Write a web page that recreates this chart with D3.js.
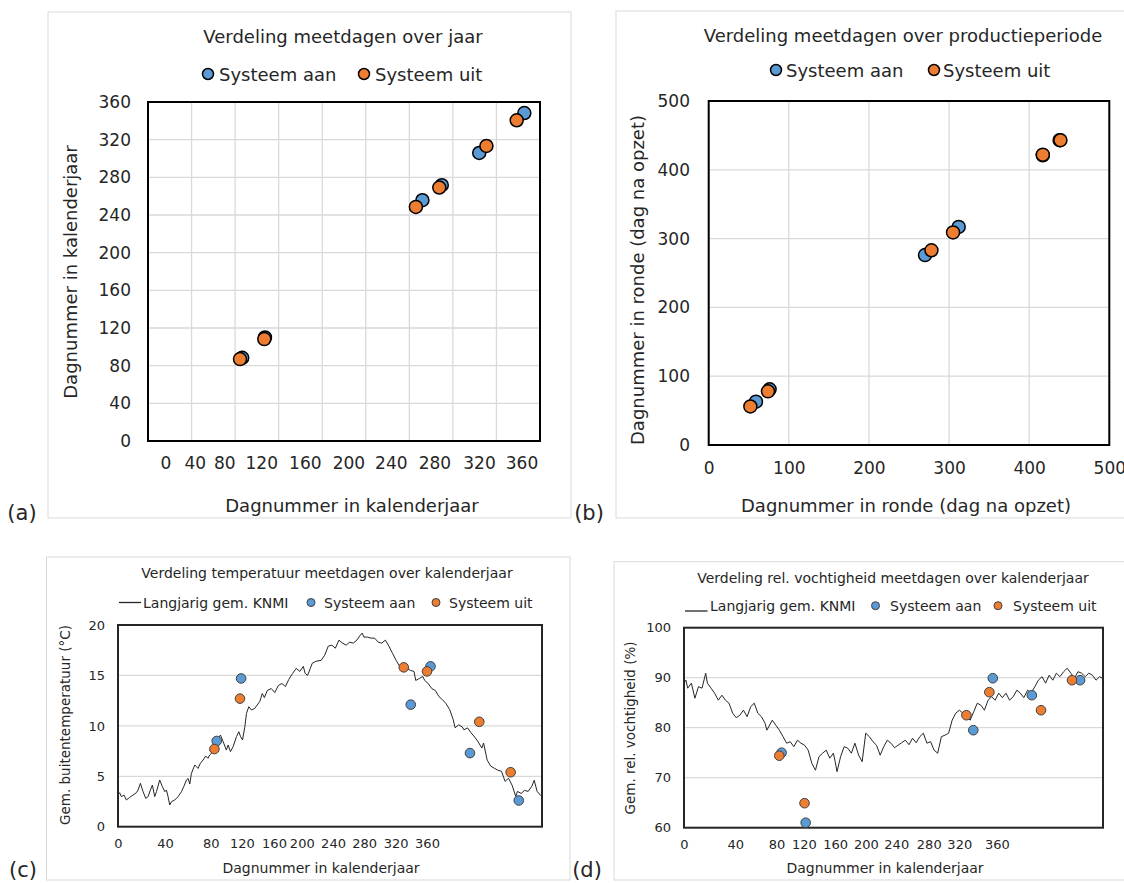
<!DOCTYPE html>
<html>
<head>
<meta charset="utf-8">
<script src="https://cdn.jsdelivr.net/npm/d3@7"></script>
<style>
  body { margin: 0; background: #fff; }
  text { font-family: "DejaVu Sans", Verdana, sans-serif; fill: #262626; }
</style>
</head>
<body>
<svg id="chart" width="1124" height="883"></svg>
<script>
// (a) dagnummer in kalenderjaar
const aBlueX = [86.5, 107.4, 252, 269.8, 304.2, 345.6];
const aBlueY = [88.4, 110, 255.7, 271.6, 305.9, 348.3];
const aOrangeX = [84.5, 106.8, 246, 267.5, 310.8, 338.6];
const aOrangeY = [87, 108.2, 248.6, 269.2, 313.3, 340.6];
const yearTicks = [0, 40, 80, 120, 160, 200, 240, 280, 320, 360];
const aXLabelPos = [16, 43, 70, 104, 144, 184, 223, 263, 304, 343];

// (b) dagnummer in ronde
const bBlueX = [59, 76, 270, 312, 417, 438];
const bBlueY = [63, 81, 276, 317, 421, 443];
const bOrangeX = [52, 74, 278, 305, 417, 439];
const bOrangeY = [56, 78, 283, 309, 422, 443];
const rondeTicks = [0, 100, 200, 300, 400, 500];

// (c) en (d) meetdagen
const blueDays = [85, 106, 252, 269, 303, 345];
const orangeDays = [83, 105, 246, 266, 311, 338];
const blueTemp = [8.5, 14.7, 12.1, 15.9, 7.3, 2.6];
const orangeTemp = [7.7, 12.7, 15.8, 15.4, 10.4, 5.4];
const blueHum = [75.0, 61.0, 79.5, 89.9, 86.5, 89.5];
const orangeHum = [74.4, 64.9, 82.5, 87.1, 83.5, 89.5];
const cXLabelPos = [0, 40.5, 79.8, 106.6, 134.3, 158.2, 185.1, 211.8, 239, 266];
const dXLabelPos = [0, 44.6, 80.6, 104.4, 131.7, 158.4, 184.9, 213.2, 239.8, 272.6];
const tempTicks = [0, 5, 10, 15, 20];
const humTicks = [60, 70, 80, 90, 100];

const tempDays = [0, 1.4, 2.9, 5.2, 7.2, 10.1, 13, 15.8, 17.3, 19.3, 21.6, 23.9, 25.9, 27.9, 29.6, 31.6, 33.1, 35.9, 38.2, 40.3, 41.7, 43.1, 44.5, 46, 48.9, 51.7, 54.6, 56.6, 58.9, 60.3, 61.8, 63.2, 66.1, 67.5, 68.9, 70.9, 73.2, 75.5, 77.5, 78.9, 80.4, 83.3, 86.2, 88.2, 90.5, 93.3, 94.8, 96.8, 99.1, 102, 104, 105.5, 107.2, 109.2, 110.6, 112.6, 114.9, 117.8, 119.2, 122, 124.2, 126, 128.5, 131.9, 135, 138, 141.1, 144.2, 147, 150.3, 153.4, 156.5, 159.5, 161.1, 163.2, 167.2, 170.3, 174.9, 177.9, 181, 184.1, 187.1, 190.2, 193.3, 196.4, 199.4, 202.5, 205.6, 208.6, 210.2, 211.7, 214.8, 217.9, 220.9, 224, 227.1, 230.2, 233.2, 236.3, 239.4, 242.5, 245.5, 248.6, 251.7, 254.8, 256.3, 259.4, 262.4, 264, 267, 270.1, 273.2, 276.3, 279.3, 282.4, 285.6, 288.6, 290.2, 293.2, 296.3, 297.8, 300.9, 304, 307, 310.1, 313.2, 314.7, 317.8, 320.9, 323.9, 327, 330.1, 333.2, 336.2, 339.3, 342.4, 343.9, 347, 350, 353.1, 356.2, 358.3, 360.8, 363.8, 365];
const tempKnmi = [3.14, 3.37, 2.98, 3.14, 2.65, 2.91, 3.14, 3.37, 3.64, 4.3, 3.47, 2.81, 2.98, 3.64, 4.13, 2.98, 3.47, 4.63, 3.97, 3.47, 3.64, 2.98, 2.15, 2.48, 2.65, 2.98, 3.47, 3.97, 4.63, 4.79, 4.23, 5.29, 6.12, 5.95, 5.78, 6.28, 6.61, 7.01, 6.78, 7.11, 7.27, 7.44, 8.76, 9.09, 8.43, 7.6, 8.1, 7.44, 7.94, 8.93, 9.42, 8.93, 8.6, 9.92, 11.24, 11.9, 11.57, 11.74, 11.97, 12.4, 13.2, 12.8, 13.5, 13.7, 13.3, 14.0, 14.2, 13.9, 14.6, 15.2, 15.7, 15.4, 15.9, 15.2, 15.0, 16.2, 16.4, 16.5, 17.0, 17.9, 18.0, 17.7, 18.5, 18.2, 18.0, 18.3, 18.2, 18.5, 19.0, 19.2, 18.8, 18.8, 18.7, 18.7, 18.3, 18.2, 18.5, 17.9, 17.2, 16.5, 15.9, 15.9, 15.7, 15.5, 15.4, 14.5, 14.7, 14.9, 14.5, 14.2, 13.7, 13.5, 12.9, 12.6, 12.2, 11.6, 10.6, 9.8, 10.1, 9.9, 9.6, 9.8, 9.3, 8.9, 8.4, 7.8, 8.3, 6.6, 6.0, 5.8, 5.6, 5.5, 4.5, 4.8, 4.1, 3.0, 3.5, 3.3, 3.6, 3.5, 4.0, 4.6, 3.5, 3.1, 3.0];
const humDays = [0, 1.7, 3.2, 6.4, 9.5, 12.6, 15.7, 18.9, 20.4, 23.6, 26.7, 29.9, 33, 36.1, 39.2, 42.4, 45.5, 48.7, 51.8, 55, 58.1, 61.2, 64.3, 67.5, 70.6, 72.2, 76.9, 80, 83.1, 86.3, 89.4, 92.5, 95.7, 98.8, 101.9, 105, 108.2, 111.3, 114.5, 117.6, 120.7, 123.9, 127, 130.1, 131.7, 133.3, 136.4, 139.5, 142.7, 145.8, 148.9, 152.1, 155.2, 158.3, 161.5, 164.6, 167.7, 170.9, 174, 177.1, 180.3, 183.4, 186.5, 189.6, 192.8, 196, 199.1, 202.2, 205.4, 208.5, 211.6, 214.8, 217.9, 221, 224.2, 227.3, 230.5, 233.6, 236.7, 239.9, 243, 246.1, 249.3, 252.4, 255.5, 258.6, 261.7, 264.9, 268, 271, 274.2, 277.3, 280.5, 283.6, 286.8, 290, 293, 296, 299.3, 302.5, 305.6, 308.7, 311.9, 315, 318.1, 321.3, 324.4, 327.5, 330.7, 333.8, 337, 340.1, 343.2, 346.4, 349.5, 352.6, 355.8, 358.9, 362, 365];
const humKnmi = [88.9, 89.5, 87.9, 88.9, 85.9, 88.2, 87.9, 90.9, 88.9, 87.9, 86.9, 85.5, 86.5, 85.5, 84.9, 82.9, 82.0, 82.5, 83.5, 82.2, 84.2, 84.9, 82.9, 82.2, 80.9, 79.5, 81.5, 80.5, 79.5, 78.2, 76.9, 77.2, 76.2, 77.5, 76.9, 76.5, 75.5, 72.9, 71.5, 74.2, 74.9, 75.5, 73.9, 74.9, 73.2, 71.2, 74.2, 76.2, 75.9, 74.9, 76.9, 74.5, 73.2, 78.9, 78.2, 77.2, 76.5, 74.5, 76.2, 77.5, 76.9, 76.0, 76.5, 77.0, 77.5, 76.6, 77.9, 77.0, 78.2, 78.9, 76.9, 77.2, 75.5, 74.9, 78.2, 78.5, 78.9, 81.5, 82.9, 83.5, 82.9, 82.2, 81.5, 83.2, 84.9, 84.5, 83.5, 85.5, 86.2, 85.5, 86.9, 86.0, 86.9, 85.5, 86.2, 87.5, 86.9, 86.0, 87.5, 87.0, 88.2, 89.5, 90.2, 88.9, 90.5, 89.5, 90.9, 90.2, 91.2, 91.9, 90.9, 89.9, 91.2, 90.9, 90.2, 90.9, 90.5, 89.5, 90.2, 89.8];

const blue = "#5b9bd5";
const orange = "#ed7d31";
const svg = d3.select("#chart");

const panels = [
  {
    box: [48, 12, 571, 518], plot: [148, 102, 540, 441],
    xDomain: [0, 360], yDomain: [0, 360],
    xGrid: yearTicks, yGrid: yearTicks,
    yTicks: yearTicks, yLabelX: 131,
    xLabelPos: aXLabelPos, xLabels: yearTicks, xLabelY: 463,
    tickSize: 17, textSize: 18, border: "#000", borderWidth: 2,
    title: "Verdeling meetdagen over jaar", titleX: 343, titleY: 36,
    xTitle: "Dagnummer in kalenderjaar", xTitleX: 352, xTitleY: 505,
    yTitle: "Dagnummer in kalenderjaar", yTitleX: 70, yTitleY: 272,
    legendY: 74, legend: [{ type: "dot", color: blue, cx: 208, tx: 219, label: "Systeem aan" }, { type: "dot", color: orange, cx: 364, tx: 375, label: "Systeem uit" }],
    legendR: 5.5,
    series: [{ xs: aBlueX, ys: aBlueY, color: blue }, { xs: aOrangeX, ys: aOrangeY, color: orange }],
    r: 6.5, dotStroke: "#000", dotStrokeWidth: 1.5,
    tag: "(a)", tagX: 22, tagY: 513
  },
  {
    box: [616, 11, 1140, 518], plot: [708.7, 101, 1109.3, 445],
    xDomain: [0, 500], yDomain: [0, 500],
    xGrid: rondeTicks, yGrid: rondeTicks,
    yTicks: rondeTicks, yLabelX: 690,
    xLabelPos: rondeTicks, xLabels: rondeTicks, xLabelY: 468,
    tickSize: 17, textSize: 18, border: "#000", borderWidth: 2,
    title: "Verdeling meetdagen over productieperiode", titleX: 903, titleY: 35,
    xTitle: "Dagnummer in ronde (dag na opzet)", xTitleX: 906, xTitleY: 505,
    yTitle: "Dagnummer in ronde (dag na opzet)", yTitleX: 637, yTitleY: 280,
    legendY: 70, legend: [{ type: "dot", color: blue, cx: 776, tx: 786, label: "Systeem aan" }, { type: "dot", color: orange, cx: 934, tx: 943, label: "Systeem uit" }],
    legendR: 5.5,
    series: [{ xs: bBlueX, ys: bBlueY, color: blue }, { xs: bOrangeX, ys: bOrangeY, color: orange }],
    r: 6.5, dotStroke: "#000", dotStrokeWidth: 1.5,
    tag: "(b)", tagX: 589, tagY: 513
  },
  {
    box: [46.5, 557, 570, 880], plot: [118, 625, 542, 826.7],
    xDomain: [0, 365], yDomain: [0, 20],
    xGrid: null, yGrid: [5, 10, 15],
    yTicks: tempTicks, yLabelX: 105,
    xLabelPos: cXLabelPos, xLabels: yearTicks, xLabelY: 843,
    tickSize: 13, textSize: 14, border: "#262626", borderWidth: 2,
    title: "Verdeling temperatuur meetdagen over kalenderjaar", titleX: 327, titleY: 573,
    xTitle: "Dagnummer in kalenderjaar", xTitleX: 321, xTitleY: 868,
    yTitle: "Gem. buitentemperatuur (°C)", yTitleX: 65, yTitleY: 725, yTitleSize: 13.5,
    legendY: 602.5, legend: [{ type: "line", x1: 119, x2: 141, ly: 602.5, tx: 143, label: "Langjarig gem. KNMI" }, { type: "dot", color: blue, cx: 311, tx: 324, label: "Systeem aan" }, { type: "dot", color: orange, cx: 436, tx: 449, label: "Systeem uit" }],
    legendR: 4,
    line: { xs: tempDays, ys: tempKnmi },
    series: [{ xs: blueDays, ys: blueTemp, color: blue }, { xs: orangeDays, ys: orangeTemp, color: orange }],
    r: 4.8, dotStroke: "#404040", dotStrokeWidth: 1,
    tag: "(c)", tagX: 23, tagY: 870
  },
  {
    box: [614, 561.7, 1140, 880], plot: [684, 627.7, 1103, 827.7],
    xDomain: [0, 365], yDomain: [60, 100],
    xGrid: null, yGrid: [70, 80, 90],
    yTicks: humTicks, yLabelX: 671,
    xLabelPos: dXLabelPos, xLabels: yearTicks, xLabelY: 844,
    tickSize: 13, textSize: 14, border: "#262626", borderWidth: 2,
    title: "Verdeling rel. vochtigheid meetdagen over kalenderjaar", titleX: 893, titleY: 578,
    xTitle: "Dagnummer in kalenderjaar", xTitleX: 885, xTitleY: 868,
    yTitle: "Gem. rel. vochtigheid (%)", yTitleX: 630, yTitleY: 728, yTitleSize: 13.5,
    legendY: 605.7, legend: [{ type: "line", x1: 685, x2: 707.5, ly: 611, tx: 710, label: "Langjarig gem. KNMI" }, { type: "dot", color: blue, cx: 875.5, tx: 890, label: "Systeem aan" }, { type: "dot", color: orange, cx: 998, tx: 1013, label: "Systeem uit" }],
    legendR: 4,
    line: { xs: humDays, ys: humKnmi },
    series: [{ xs: blueDays, ys: blueHum, color: blue }, { xs: orangeDays, ys: orangeHum, color: orange }],
    r: 4.8, dotStroke: "#404040", dotStrokeWidth: 1,
    tag: "(d)", tagX: 587, tagY: 870
  }
];

panels.forEach(drawPanel);

function drawPanel(p) {
  const g = svg.append("g");
  const [bx0, by0, bx1, by1] = p.box;
  const [px0, py0, px1, py1] = p.plot;

  g.append("rect")
    .attr("x", bx0).attr("y", by0)
    .attr("width", bx1 - bx0).attr("height", by1 - by0)
    .attr("fill", "#fff").attr("stroke", "#d9d9d9").attr("stroke-width", 1);

  const x = d3.scaleLinear().domain(p.xDomain).range([px0, px1]);
  const y = d3.scaleLinear().domain(p.yDomain).range([py1, py0]);

  if (p.xGrid) {
    g.selectAll(null).data(p.xGrid).join("line")
      .attr("x1", (d) => x(d)).attr("x2", (d) => x(d))
      .attr("y1", py0).attr("y2", py1)
      .attr("stroke", "#d9d9d9").attr("stroke-width", 1.3);
  }
  g.selectAll(null).data(p.yGrid).join("line")
    .attr("x1", px0).attr("x2", px1)
    .attr("y1", (d) => y(d)).attr("y2", (d) => y(d))
    .attr("stroke", "#d9d9d9").attr("stroke-width", 1.3);

  if (p.line) {
    const pts = p.line.xs.map((d, i) => [d, p.line.ys[i]]);
    g.append("path")
      .attr("d", d3.line().x((d) => x(d[0])).y((d) => y(d[1]))(pts))
      .attr("fill", "none").attr("stroke", "#262626").attr("stroke-width", 1);
  }

  g.append("rect")
    .attr("x", px0).attr("y", py0)
    .attr("width", px1 - px0).attr("height", py1 - py0)
    .attr("fill", "none").attr("stroke", p.border).attr("stroke-width", p.borderWidth);

  p.series.forEach((s) => {
    g.selectAll(null).data(s.xs.map((d, i) => [d, s.ys[i]])).join("circle")
      .attr("cx", (d) => x(d[0])).attr("cy", (d) => y(d[1]))
      .attr("r", p.r)
      .attr("fill", s.color).attr("stroke", p.dotStroke).attr("stroke-width", p.dotStrokeWidth);
  });

  // assen: alleen labels, geen lijnen
  const yAxis = g.append("g")
    .attr("transform", `translate(${p.yLabelX},0)`)
    .call(d3.axisLeft(y).tickValues(p.yTicks).tickSize(0).tickPadding(0));
  yAxis.select(".domain").remove();
  yAxis.attr("font-family", null);
  yAxis.selectAll("text").attr("font-size", p.tickSize).attr("fill", "#262626");

  const xAxis = g.append("g")
    .attr("transform", `translate(0,${p.xLabelY})`)
    .call(d3.axisBottom(x).tickValues(p.xLabelPos).tickFormat((d, i) => p.xLabels[i]).tickSize(0).tickPadding(0));
  xAxis.select(".domain").remove();
  xAxis.attr("font-family", null);
  xAxis.selectAll("text").attr("font-size", p.tickSize).attr("fill", "#262626").attr("dy", "0.35em");

  g.append("text").attr("x", p.titleX).attr("y", p.titleY)
    .attr("text-anchor", "middle").attr("dominant-baseline", "central")
    .attr("font-size", p.textSize).text(p.title);
  g.append("text").attr("x", p.xTitleX).attr("y", p.xTitleY)
    .attr("text-anchor", "middle").attr("dominant-baseline", "central")
    .attr("font-size", p.textSize).text(p.xTitle);
  g.append("text")
    .attr("transform", `translate(${p.yTitleX},${p.yTitleY}) rotate(-90)`)
    .attr("text-anchor", "middle").attr("dominant-baseline", "central")
    .attr("font-size", p.yTitleSize || p.textSize).text(p.yTitle);

  p.legend.forEach((it) => {
    if (it.type === "dot") {
      g.append("circle").attr("cx", it.cx).attr("cy", p.legendY).attr("r", p.legendR)
        .attr("fill", it.color).attr("stroke", p.dotStroke).attr("stroke-width", p.dotStrokeWidth);
    } else {
      g.append("line").attr("x1", it.x1).attr("x2", it.x2).attr("y1", it.ly).attr("y2", it.ly)
        .attr("stroke", "#262626").attr("stroke-width", 1.3);
    }
    g.append("text").attr("x", it.tx).attr("y", p.legendY)
      .attr("dominant-baseline", "central").attr("font-size", p.textSize).text(it.label);
  });

  svg.append("text").attr("x", p.tagX).attr("y", p.tagY)
    .attr("text-anchor", "middle").attr("dominant-baseline", "central")
    .attr("font-size", 21).text(p.tag);
}
</script>
</body>
</html>
